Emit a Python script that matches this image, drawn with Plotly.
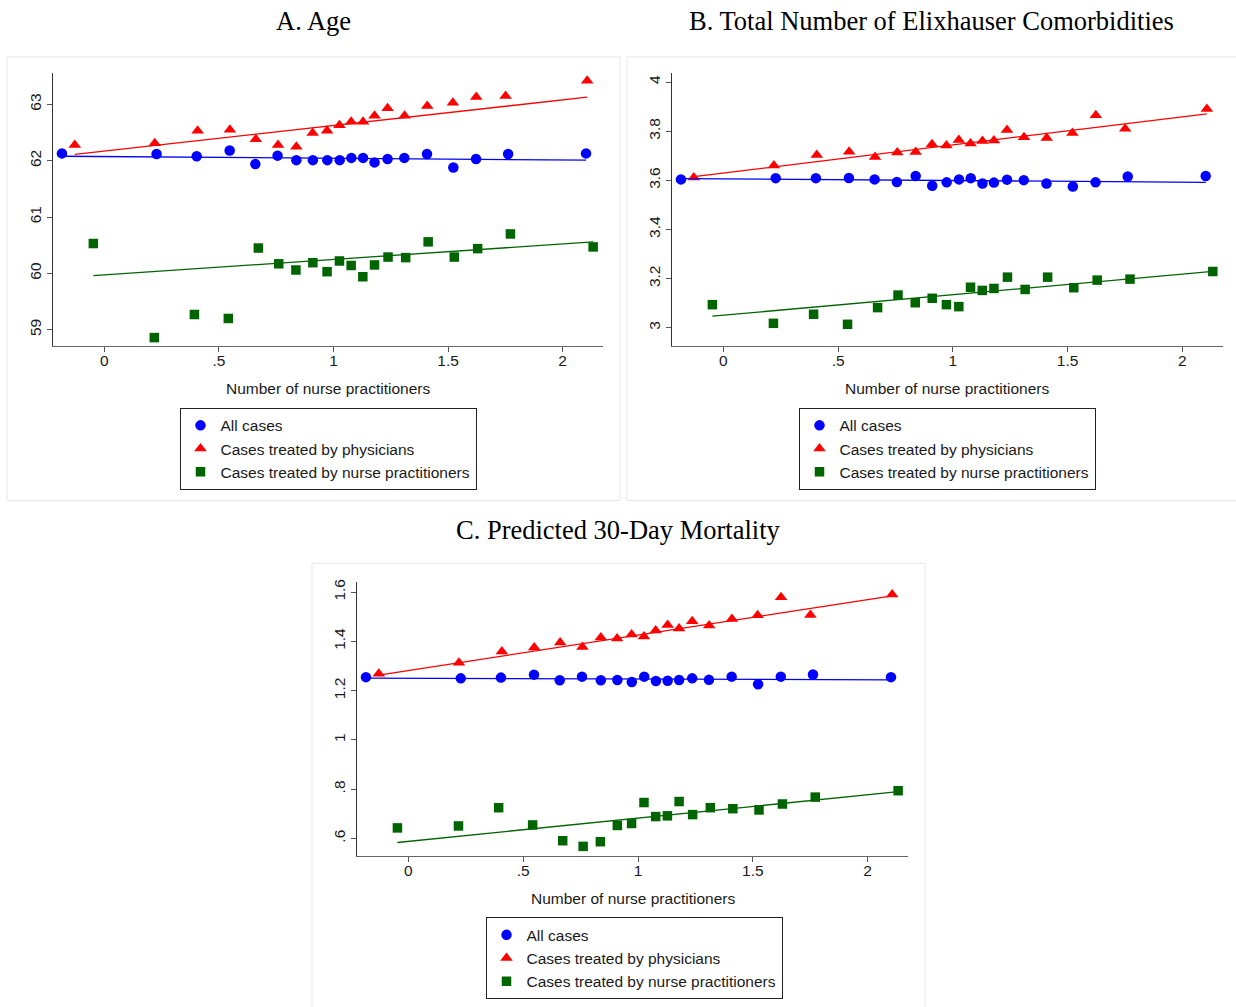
import plotly.graph_objects as go

W, H = 1236, 1007

# ---------------- data ----------------
series_names = ["All cases", "Cases treated by physicians", "Cases treated by nurse practitioners"]

x_ticks = [0, 0.5, 1, 1.5, 2]
x_tick_labels = ["0", ".5", "1", "1.5", "2"]

x_all = [-0.185, 0.228, 0.403, 0.547, 0.659, 0.756, 0.838, 0.910, 0.973, 1.027,
         1.078, 1.129, 1.179, 1.236, 1.309, 1.408, 1.523, 1.622, 1.762, 2.102]
x_phys = [-0.129, 0.220, 0.407, 0.548, 0.661, 0.758, 0.838, 0.909, 0.972, 1.026,
          1.077, 1.129, 1.179, 1.236, 1.310, 1.409, 1.521, 1.623, 1.751, 2.107]
x_np = [-0.048, 0.218, 0.393, 0.541, 0.672, 0.761, 0.836, 0.910, 0.972, 1.026,
        1.077, 1.128, 1.179, 1.238, 1.315, 1.413, 1.527, 1.629, 1.772, 2.133]

# A. Age
age_all = [62.13, 62.12, 62.08, 62.18, 61.94, 62.09, 62.01, 62.01, 62.01, 62.01,
           62.05, 62.05, 61.97, 62.03, 62.05, 62.12, 61.88, 62.03, 62.12, 62.13]
age_phys = [62.28, 62.31, 62.53, 62.55, 62.38, 62.28, 62.25, 62.49, 62.53, 62.63,
            62.69, 62.69, 62.80, 62.93, 62.80, 62.97, 63.03, 63.13, 63.15, 63.42]
age_np = [60.53, 58.86, 59.27, 59.20, 60.45, 60.17, 60.06, 60.19, 60.03, 60.22,
          60.14, 59.94, 60.15, 60.29, 60.28, 60.56, 60.29, 60.44, 60.70, 60.47]
age_fit_intercept = [62.074, 62.170, 59.973]
age_fit_slope = [-0.031, 0.455, 0.275]
age_ticks = [59, 60, 61, 62, 63]
age_tick_labels = ["59", "60", "61", "62", "63"]

# B. Elixhauser comorbidities
elix_all = [3.604, 3.609, 3.609, 3.610, 3.604, 3.593, 3.618, 3.578, 3.592, 3.604,
            3.609, 3.587, 3.591, 3.603, 3.601, 3.587, 3.575, 3.592, 3.616, 3.618]
elix_phys = [3.612, 3.661, 3.703, 3.717, 3.695, 3.713, 3.716, 3.747, 3.742, 3.764,
             3.750, 3.760, 3.762, 3.805, 3.776, 3.773, 3.793, 3.865, 3.810, 3.891]
elix_np = [3.094, 3.018, 3.055, 3.014, 3.082, 3.133, 3.102, 3.120, 3.094, 3.086,
           3.165, 3.152, 3.160, 3.206, 3.156, 3.206, 3.163, 3.194, 3.198, 3.229]
elix_fit_intercept = [3.606, 3.630, 3.051]
elix_fit_slope = [-0.0066, 0.1143, 0.0836]
elix_ticks = [3, 3.2, 3.4, 3.6, 3.8, 4]
elix_tick_labels = ["3", "3.2", "3.4", "3.6", "3.8", "4"]

# C. Predicted 30-day mortality
mort_all = [1.255, 1.250, 1.253, 1.265, 1.242, 1.257, 1.242, 1.243, 1.235, 1.257,
            1.239, 1.240, 1.243, 1.250, 1.244, 1.257, 1.226, 1.257, 1.266, 1.255]
mort_phys = [1.269, 1.313, 1.359, 1.375, 1.396, 1.377, 1.416, 1.412, 1.428, 1.420,
             1.444, 1.467, 1.452, 1.482, 1.465, 1.491, 1.506, 1.579, 1.507, 1.590]
mort_np = [0.643, 0.651, 0.725, 0.655, 0.591, 0.568, 0.587, 0.653, 0.661, 0.746,
           0.689, 0.692, 0.750, 0.697, 0.725, 0.721, 0.716, 0.740, 0.768, 0.794]
mort_fit_intercept = [1.2504, 1.2817, 0.5884]
mort_fit_slope = [-0.0031, 0.1439, 0.0945]
mort_ticks = [0.6, 0.8, 1, 1.2, 1.4, 1.6]
mort_tick_labels = [".6", ".8", "1", "1.2", "1.4", "1.6"]

panel_titles = ["A. Age", "B. Total Number of Elixhauser Comorbidities", "C. Predicted 30-Day Mortality"]
x_title = "Number of nurse practitioners"

# ---------------- styling ----------------
colors = ["#0000FF", "#FF0000", "#006400"]
symbols = ["circle", "triangle-up", "square"]
sizes = [10.5, 11, 9.5]
SANS = "Liberation Sans, Arial, sans-serif"
SERIF = "Liberation Serif, Times New Roman, serif"


def fx(p):
    return p / W


def fy(p):
    return 1 - p / H


panels = [
    dict(ys=[age_all, age_phys, age_np], b=age_fit_intercept, m=age_fit_slope,
         ticks=age_ticks, labels=age_tick_labels, yrange=[58.706, 63.561],
         xdom=[53, 603], ydom=[70, 344.3], box=[7, 54, 620, 499],
         title_xy=(313.5, 18), xt_xy=(328, 387), leg_xy=(328, 406)),
    dict(ys=[elix_all, elix_phys, elix_np], b=elix_fit_intercept, m=elix_fit_slope,
         ticks=elix_ticks, labels=elix_tick_labels, yrange=[2.9246, 4.038],
         xdom=[672, 1222.7], ydom=[70, 344.3], box=[627, 54, 1240, 499],
         title_xy=(931.5, 18), xt_xy=(947, 387), leg_xy=(947, 406)),
    dict(ys=[mort_all, mort_phys, mort_np], b=mort_fit_intercept, m=mort_fit_slope,
         ticks=mort_ticks, labels=mort_tick_labels, yrange=[0.530, 1.640],
         xdom=[357, 908], ydom=[581, 855.3], box=[312, 562, 925, 1012],
         title_xy=(618.5, 529), xt_xy=(632.5, 898), leg_xy=(634, 917)),
]
xs = [x_all, x_phys, x_np]

fig = go.Figure()
layout = dict(
    width=W, height=H, margin=dict(l=0, r=0, t=0, b=0),
    paper_bgcolor="white", plot_bgcolor="white",
    font=dict(family=SANS, size=15.5, color="#1a1a1a"),
    shapes=[], annotations=[],
)

for i, p in enumerate(panels):
    sfx = "" if i == 0 else str(i + 1)
    xa, ya = "x" + sfx, "y" + sfx
    leg = "legend" + sfx
    # panel frame
    x0, y0, x1, y1 = p["box"]
    layout["shapes"].append(dict(type="rect", xref="paper", yref="paper",
                                 x0=fx(x0), x1=fx(x1), y0=fy(y1), y1=fy(y0),
                                 line=dict(color="#e3eaea", width=1), layer="below"))
    for k in range(3):
        fig.add_trace(go.Scatter(
            x=xs[k], y=p["ys"][k], mode="markers", name=series_names[k],
            marker=dict(symbol=symbols[k], size=sizes[k], color=colors[k], line=dict(width=0)),
            xaxis=xa, yaxis=ya, legend=leg, showlegend=True, cliponaxis=False))
    for k in range(3):
        lx = [min(xs[k]), max(xs[k])]
        ly = [p["b"][k] + p["m"][k] * v for v in lx]
        fig.add_trace(go.Scatter(
            x=lx, y=ly, mode="lines", line=dict(color=colors[k], width=1.3),
            xaxis=xa, yaxis=ya, showlegend=False, hoverinfo="skip"))

    axis_common = dict(showgrid=False, zeroline=False, showline=True, ticks="outside",
                       ticklen=5, tickwidth=1, tickcolor="#555555",
                       tickfont=dict(family=SANS, size=15.5, color="#1a1a1a"))
    layout["xaxis" + sfx] = dict(axis_common, domain=[fx(p["xdom"][0]), fx(p["xdom"][1])],
                                 range=[-0.224, 2.176], tickvals=x_ticks, ticktext=x_tick_labels,
                                 linecolor="#666666", linewidth=1.3, anchor=ya,
                                 ticklabelstandoff=-5)
    layout["yaxis" + sfx] = dict(axis_common, domain=[fy(p["ydom"][1]), fy(p["ydom"][0])],
                                 range=p["yrange"], tickvals=p["ticks"], ticktext=p["labels"],
                                 tickangle=-90, linecolor="#333333", linewidth=1.3, anchor=xa)
    layout["annotations"].append(dict(text=panel_titles[i], xref="paper", yref="paper",
                                      x=fx(p["title_xy"][0]), y=fy(p["title_xy"][1]),
                                      xanchor="center", yanchor="middle", showarrow=False,
                                      font=dict(family=SERIF, size=26.5, color="black")))
    layout["annotations"].append(dict(text=x_title, xref="paper", yref="paper",
                                      x=fx(p["xt_xy"][0]), y=fy(p["xt_xy"][1]),
                                      xanchor="center", yanchor="middle", showarrow=False,
                                      font=dict(family=SANS, size=15.5, color="#1a1a1a")))
    layout[leg] = dict(x=fx(p["leg_xy"][0]), y=fy(p["leg_xy"][1]), xanchor="center", yanchor="top",
                       bordercolor="#222222", borderwidth=1, bgcolor="white",
                       font=dict(family=SANS, size=15.5, color="#1a1a1a"),
                       itemwidth=30, tracegroupgap=0, itemclick=False, itemdoubleclick=False)

fig.update_layout(**layout)
fig.write_html("out.html")
